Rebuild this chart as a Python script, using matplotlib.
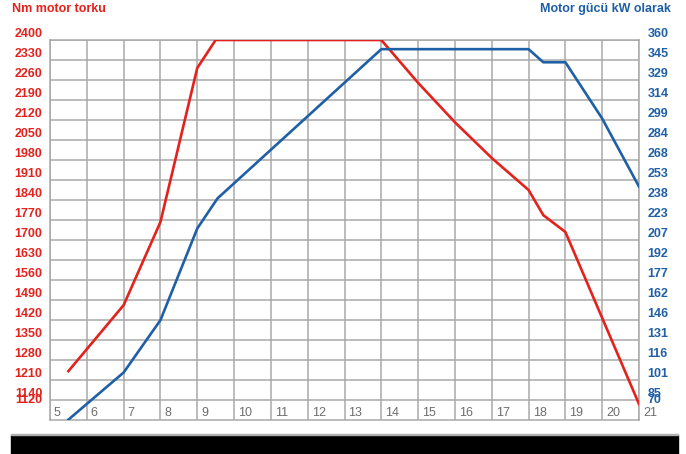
import matplotlib.pyplot as plt
import matplotlib.transforms as mtransforms
from matplotlib.patches import Rectangle

plt.rcParams['font.family'] = ['Liberation Sans', 'DejaVu Sans']

# engine speed (x 100 rpm)
rpm_torque = [5.5, 7, 8, 9, 9.5, 14, 15, 16, 17, 18, 18.4, 19, 21]
torque_nm = [1241, 1472, 1763, 2302, 2400, 2400, 2250, 2112, 1987, 1875, 1787, 1728, 1126]

rpm_power = [5.5, 7, 8, 9, 9.55, 14, 18, 18.4, 19, 20, 21]
power_kw = [70, 106, 146, 216, 239, 353, 353, 343, 343, 300, 248]

x_ticks = list(range(5, 22))
left_ticks = [2400, 2330, 2260, 2190, 2120, 2050, 1980, 1910, 1840, 1770,
              1700, 1630, 1560, 1490, 1420, 1350, 1280, 1210, 1140]
left_extra = 1120
right_labels = ['360', '345', '329', '314', '299', '284', '268', '253', '238', '223',
                '207', '192', '177', '162', '146', '131', '116', '101', '85']
right_extra = '70'

red = '#e3221d'
blue = '#1f5fa6'
grid_c = '#a9a9a9'


def nm_to_kw(v):
    # both axes share the same grid: 2400 <-> 360, 1140 <-> 85
    return 85 + (v - 1140) * 275 / 1260


fig = plt.figure(figsize=(6.86, 4.54), dpi=100)
ax = fig.add_axes([50 / 686, 34 / 454, 589 / 686, 380 / 454])
ax.set_xlim(5, 21)
ax.set_ylim(1070, 2400)

ax.set_yticks(left_ticks)
ax.set_yticks([left_extra], minor=True)
ax.set_yticklabels([str(t) for t in left_ticks], va='bottom')
ax.set_yticklabels([str(left_extra)], minor=True, va='bottom')
ax.tick_params(axis='y', which='both', length=0, pad=5.5, colors=red, labelsize=9)
for lbl in ax.get_yticklabels() + ax.get_yticklabels(minor=True):
    lbl.set_fontweight('bold')

ax.set_xticks(x_ticks)
ax.set_xticklabels([str(t) for t in x_ticks], ha='left')
ax.tick_params(axis='x', length=0, pad=-9.5, colors='#6d6d6d', labelsize=9)
off = mtransforms.ScaledTranslation(0.04, 0, fig.dpi_scale_trans)
for lbl in ax.get_xticklabels():
    lbl.set_transform(lbl.get_transform() + off)

ax.grid(True, which='major', color=grid_c, linewidth=1.1)
for s in ax.spines.values():
    s.set_color(grid_c)
    s.set_linewidth(1.1)
ax.set_axisbelow(True)

ax.plot(rpm_torque, torque_nm, color=red, linewidth=1.9, zorder=3)

ax2 = ax.twinx()
ax2.set_ylim(nm_to_kw(1070), 360)
ax2.set_yticks([nm_to_kw(t) for t in left_ticks])
ax2.set_yticks([nm_to_kw(left_extra)], minor=True)
ax2.set_yticklabels(right_labels, va='bottom')
ax2.set_yticklabels([right_extra], minor=True, va='bottom')
ax2.tick_params(axis='y', which='both', length=0, pad=6, colors=blue, labelsize=9)
for lbl in ax2.get_yticklabels() + ax2.get_yticklabels(minor=True):
    lbl.set_fontweight('bold')
for s in ax2.spines.values():
    s.set_visible(False)

ax2.plot(rpm_power, power_kw, color=blue, linewidth=1.9, zorder=3)

fig.text(12 / 686, 1 - 3 / 454, 'Nm motor torku', color=red, fontsize=9,
         fontweight='bold', va='top', ha='left')
fig.text(671 / 686, 1 - 3 / 454, 'Motor gücü kW olarak', color=blue, fontsize=9,
         fontweight='bold', va='top', ha='right')

# black strip at the bottom of the picture
fig.patches.append(Rectangle((11 / 686, 0), 667 / 686, 19 / 454,
                             transform=fig.transFigure, color='black'))
fig.patches.append(Rectangle((11 / 686, 19 / 454), 667 / 686, 1 / 454,
                             transform=fig.transFigure, color='#b0b0b0'))

fig.savefig('out.png', dpi=100)
